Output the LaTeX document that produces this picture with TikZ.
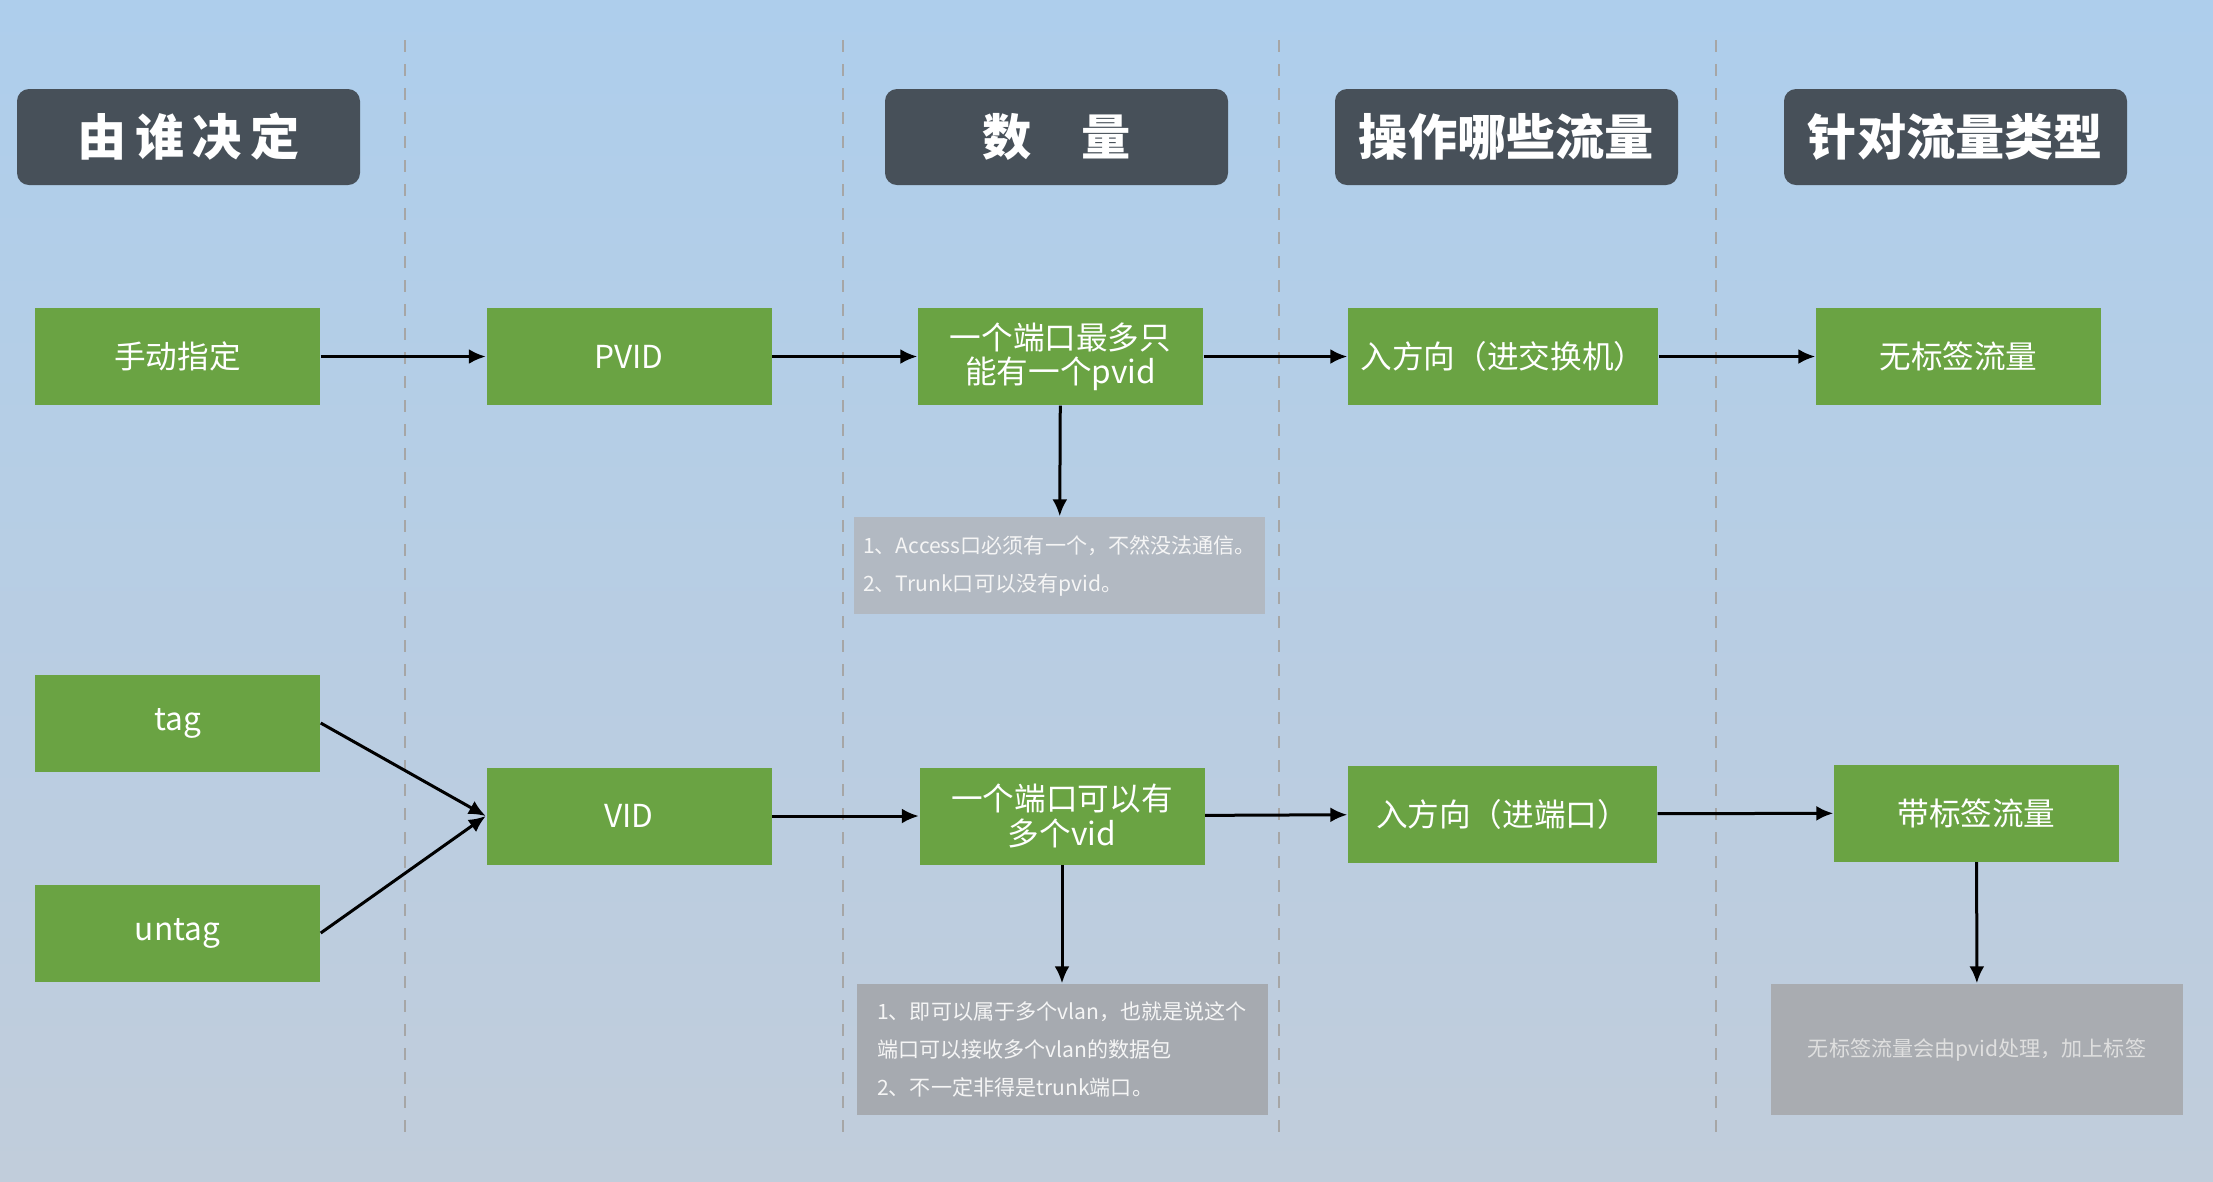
\documentclass[tikz,border=0pt]{standalone}
\usepackage{fontspec}
\setmainfont{Noto Sans CJK SC}
\usepackage{tikz}
\usetikzlibrary{arrows.meta,positioning}
\definecolor{boxgreen}{RGB}{106,163,67}
\definecolor{hdrgrey}{RGB}{71,80,89}
\definecolor{bgtop}{RGB}{174,206,236}
\definecolor{bgmid}{RGB}{196,221,242}
\definecolor{bgbot}{RGB}{193,205,219}
\tikzset{hdr/.style={fill=hdrgrey,text=white,rounded corners=1.2mm,minimum width=34.3mm,minimum height=9.6mm,inner sep=0pt,font=\fontsize{14pt}{16pt}\selectfont\bfseries},
greenbox/.style={fill=boxgreen,text=white,minimum width=28.5mm,minimum height=9.7mm,inner sep=0pt,align=center,font=\fontsize{9pt}{9.8pt}\selectfont},
notebox/.style={text=white!92!gray,minimum width=41.1mm,inner sep=0pt,align=left,font=\fontsize{6pt}{10.8pt}\selectfont}}

\begin{document}
\begin{tikzpicture}[x=0.1mm,y=-0.1mm]

\tikzset{flow/.style={-{Latex[length=1.7mm,width=1.5mm]},line width=0.3mm},
sepline/.style={gray!70,dashed,dash pattern=on 1.2mm off 1.2mm,line width=0.15mm}}

% Background
\shade[top color=bgtop,middle color=bgmid,bottom color=bgbot] (0,0) rectangle (2213,1181);
\useasboundingbox (0,0) rectangle (2213,1181);

% Column separators
\foreach \x in {405,843,1279,1716} \draw[sepline] (\x,40) -- (\x,1136);

% Headers
\node[hdr] (who) at (188.5,137) {由\,谁\,决\,定};
\node[hdr] (count) at (1056.5,137) {数　量};
\node[hdr] (which) at (1506.5,137) {操作哪些流量};
\node[hdr] (kind) at (1955.5,137) {针对流量类型};

% PVID row
\node[greenbox] (manual) at (177.5,356.5) {手动指定};
\node[greenbox] (pvid) at (629,356.5) {PVID};
\node[greenbox] (pvidnum) at (1060.5,356.5) {一个端口最多只\\能有一个pvid};
\node[greenbox,minimum width=31mm] (inswitch) at (1503,356.5) {入方向（进交换机）};
\node[greenbox] (untagged) at (1958.5,356.5) {无标签流量};

% VID row
\node[greenbox] (tag) at (177.5,723) {tag};
\node[greenbox] (untag) at (177.5,933) {untag};
\node[greenbox] (vid) at (629,816) {VID};
\node[greenbox] (vidnum) at (1062,816) {一个端口可以有\\多个vid};
\node[greenbox,minimum width=30.9mm] (inport) at (1502.5,814) {入方向（进端口）};
\node[greenbox] (tagged) at (1976.5,813) {带标签流量};

% Notes
\node[notebox,fill={rgb,255:red,178;green,185;blue,194},minimum height=9.7mm] (note1) at (1059.5,565.5) {1、Access口必须有一个，不然没法通信。\\2、Trunk口可以没有pvid。};
\node[notebox,fill={rgb,255:red,166;green,170;blue,176},minimum height=13.1mm] (note2) at (1062,1049.5) {1、即可以属于多个vlan，也就是说这个\\端口可以接收多个vlan的数据包\\2、不一定非得是trunk端口。};
\node[notebox,fill={rgb,255:red,169;green,172;blue,177},minimum width=41.2mm,minimum height=13.1mm,text=white!75!gray,align=center] (note3) at (1977,1049.5) {无标签流量会由pvid处理，加上标签};

% Arrows
\foreach \a/\b in {manual/pvid,pvid/pvidnum,pvidnum/inswitch,inswitch/untagged,vid/vidnum,vidnum/inport,inport/tagged} \draw[flow] (\a) -- (\b);
\draw[flow] (tag.east) -- (vid.west);
\draw[flow] (untag.east) -- (vid.west);
\foreach \a/\b in {pvidnum/note1,vidnum/note2,tagged/note3} \draw[flow] (\a) -- (\b);

\end{tikzpicture}
\end{document}
